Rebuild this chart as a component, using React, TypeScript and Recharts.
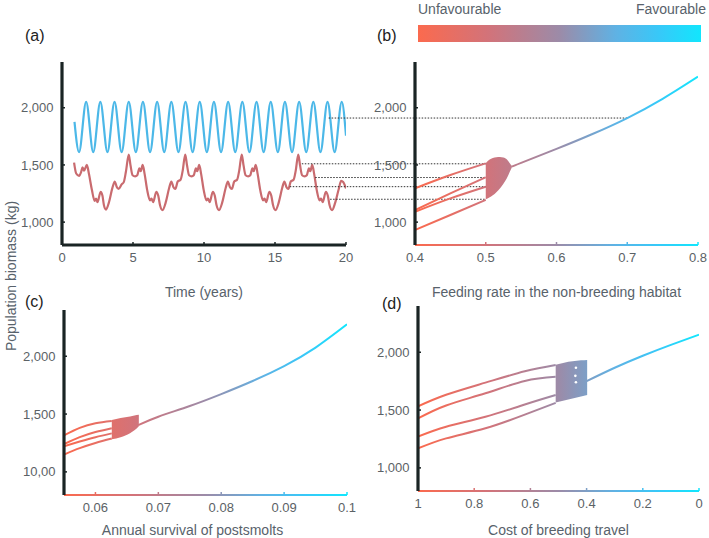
import React from "react";
import { ComposedChart, Line, Area, Scatter, XAxis, YAxis, ReferenceLine, Label } from "recharts";

// ---- data ----

// (a) population biomass over time, [years, kg]
const blueSeries = [
  [0.88, 1877], [1.2, 1612], [1.7, 2052], [2.2, 1612], [2.7, 2052], [3.2, 1612], [3.7, 2052],
  [4.2, 1612], [4.7, 2052], [5.2, 1612], [5.7, 2052], [6.2, 1612], [6.7, 2052], [7.2, 1612],
  [7.7, 2052], [8.2, 1612], [8.7, 2052], [9.2, 1612], [9.7, 2052], [10.2, 1612], [10.7, 2052],
  [11.2, 1612], [11.7, 2052], [12.2, 1612], [12.7, 2052], [13.2, 1612], [13.7, 2052], [14.2, 1612],
  [14.7, 2052], [15.2, 1612], [15.7, 2052], [16.2, 1612], [16.7, 2052], [17.2, 1612], [17.7, 2052],
  [18.2, 1612], [18.7, 2052], [19.2, 1612], [19.7, 2052], [20.0, 1755],
];

const redSeries = [
  [0.85, 1520], [1.0, 1425], [1.2, 1405], [1.35, 1440], [1.45, 1480], [1.55, 1450], [1.75, 1500],
  [1.9, 1420], [2.1, 1285], [2.3, 1185], [2.4, 1205], [2.5, 1175], [2.72, 1265], [2.85, 1230],
  [2.95, 1150], [3.1, 1110], [3.3, 1170], [3.55, 1300], [3.72, 1355], [3.85, 1310], [3.98, 1290],
  [4.2, 1330], [4.35, 1350], [4.5, 1440],
  [4.7, 1590], [4.82, 1500], [4.97, 1410], [5.15, 1400], [5.3, 1410], [5.45, 1470], [5.55, 1445],
  [5.68, 1500], [5.82, 1420], [6.0, 1280], [6.2, 1190], [6.3, 1205], [6.42, 1175], [6.64, 1265],
  [6.78, 1230], [6.9, 1150], [7.08, 1105], [7.3, 1170], [7.55, 1300], [7.7, 1355], [7.85, 1305],
  [7.98, 1290], [8.15, 1355], [8.35, 1370], [8.5, 1450],
  [8.68, 1590], [8.8, 1500], [8.95, 1410], [9.13, 1400], [9.28, 1410], [9.43, 1470], [9.53, 1445],
  [9.66, 1500], [9.8, 1420], [9.98, 1280], [10.18, 1190], [10.28, 1205], [10.4, 1175], [10.62, 1265],
  [10.76, 1230], [10.88, 1150], [11.06, 1105], [11.28, 1170], [11.53, 1300], [11.68, 1355], [11.83, 1305],
  [11.96, 1290], [12.13, 1355], [12.33, 1370], [12.48, 1450],
  [12.66, 1590], [12.78, 1500], [12.93, 1410], [13.11, 1400], [13.26, 1410], [13.41, 1470], [13.51, 1445],
  [13.64, 1500], [13.78, 1420], [13.96, 1280], [14.16, 1190], [14.26, 1205], [14.38, 1175], [14.6, 1265],
  [14.74, 1230], [14.86, 1150], [15.04, 1105], [15.26, 1170], [15.51, 1300], [15.66, 1355], [15.81, 1305],
  [15.94, 1290], [16.11, 1355], [16.31, 1370], [16.46, 1450],
  [16.64, 1590], [16.76, 1500], [16.91, 1410], [17.09, 1400], [17.24, 1410], [17.39, 1470], [17.49, 1445],
  [17.62, 1500], [17.76, 1420], [17.94, 1280], [18.14, 1190], [18.24, 1205], [18.36, 1175], [18.58, 1265],
  [18.72, 1230], [18.84, 1150], [19.02, 1105], [19.24, 1170], [19.49, 1290], [19.66, 1360], [19.8, 1350],
  [20.0, 1295],
];

const timeTicks = [0, 5, 10, 15, 20];
const biomassTicks = [1000, 1500, 2000];
const biomassLabels = ["1,000", "1,500", "2,000"];
const biomassLabelsC = ["10,00", "1,500", "2,000"];

// (b) feeding rate in the non-breeding habitat
const feedTicks = [0.4, 0.5, 0.6, 0.7, 0.8];
const feedBranches = [
  [[0.4, 1296], [0.45, 1412], [0.5, 1514]],
  [[0.4, 1106], [0.45, 1252], [0.5, 1392]],
  [[0.4, 1091], [0.45, 1208], [0.5, 1310]],
  [[0.4, 931], [0.45, 1062], [0.5, 1195]],
];
const feedBand = [
  [0.5, 1200, 1515], [0.505, 1215, 1545], [0.51, 1235, 1560], [0.515, 1262, 1568], [0.52, 1295, 1570],
  [0.525, 1335, 1565], [0.53, 1385, 1548], [0.534, 1440, 1515], [0.537, 1480, 1490],
];
const feedMain = [[0.537, 1485], [0.55, 1518], [0.6, 1640], [0.65, 1768], [0.7, 1910], [0.75, 2078], [0.8, 2272]];
// dotted guides linking (a) to (b): level, start and end on the feeding-rate scale
const guideLevels = [
  { y: 1910, from: 0.278, to: 0.7 },
  { y: 1510, from: 0.24, to: 0.5 },
  { y: 1390, from: 0.259, to: 0.5 },
  { y: 1310, from: 0.223, to: 0.5 },
  { y: 1200, from: 0.28, to: 0.5 },
];

// (c) annual survival of postsmolts
const survivalTicks = [0.06, 0.07, 0.08, 0.09, 0.1];
const survivalBranches = [
  [[0.055, 1315], [0.0575, 1380], [0.06, 1420], [0.0626, 1440]],
  [[0.055, 1240], [0.0575, 1300], [0.06, 1345], [0.0626, 1378]],
  [[0.055, 1222], [0.0575, 1262], [0.06, 1300], [0.0626, 1333]],
  [[0.055, 1150], [0.0575, 1205], [0.06, 1250], [0.0626, 1288]],
];
const survivalBand = [
  [0.0626, 1282, 1448], [0.064, 1300, 1465], [0.0655, 1335, 1480], [0.0662, 1360, 1488], [0.0669, 1395, 1493],
];
const survivalMain = [
  [0.0668, 1405], [0.07, 1477], [0.075, 1570], [0.08, 1673], [0.085, 1786], [0.09, 1915], [0.095, 2075], [0.1, 2276],
];

// (d) cost of breeding travel (axis runs 1 -> 0)
const costTicks = [0, 0.2, 0.4, 0.6, 0.8, 1];
const costBranches = [
  [[1, 1532], [0.9, 1632], [0.76, 1737], [0.62, 1835], [0.51, 1890]],
  [[1, 1428], [0.9, 1540], [0.76, 1645], [0.62, 1752], [0.51, 1788]],
  [[1, 1270], [0.9, 1355], [0.76, 1442], [0.62, 1548], [0.51, 1630]],
  [[1, 1168], [0.9, 1255], [0.76, 1342], [0.62, 1460], [0.51, 1562]],
];
const costBand = [
  [0.51, 1565, 1892], [0.48, 1582, 1910], [0.45, 1600, 1922], [0.42, 1618, 1930], [0.398, 1630, 1934],
];
const costMain = [[0.4, 1750], [0.3, 1866], [0.2, 1970], [0.1, 2064], [0, 2152]];
const costDots = [[0.438, 1866], [0.44, 1796], [0.438, 1741]];

// ---- styling ----
const FONT = '"Liberation Sans", Arial, Helvetica, sans-serif';
const INK = "#1a2424";
const TICK_TEXT = "#5b6266";
const TITLE_TEXT = "#58626b";
const STOPS: [number, string][] = [
  [0, "#fb6a4e"], [0.25, "#d2737a"], [0.5, "#9c8ba8"], [0.7, "#5fb2e4"], [0.85, "#38c8f8"], [1, "#12e6fd"],
];

const pts = (rows: number[][]) => rows.map(([x, v]) => ({ x, v }));
const band = (rows: number[][]) => rows.map(([x, lo, hi]) => ({ x, r: [lo, hi] }));

function gradient(id: string, x1: number, x2: number) {
  return (
    <defs key={"defs-" + id}>
      <linearGradient id={id} gradientUnits="userSpaceOnUse" x1={x1} y1={0} x2={x2} y2={0}>
        {STOPS.map(([o, c]) => (
          <stop key={o} offset={o} stopColor={c} />
        ))}
      </linearGradient>
    </defs>
  );
}

function yAxis(labels: string[]) {
  return (
    <YAxis
      key="y"
      type="number"
      domain={[800, 2400]}
      ticks={biomassTicks}
      width={50}
      allowDataOverflow
      tickFormatter={(v: number) => labels[biomassTicks.indexOf(v)]}
      axisLine={{ stroke: INK, strokeWidth: 3.2 }}
      tickLine={{ stroke: INK, strokeWidth: 1.5 }}
      tickSize={-3}
      tickMargin={11.5}
      tick={{ fill: TICK_TEXT, fontSize: 13, fontFamily: FONT }}
    />
  );
}

function xAxis(o: {
  domain: number[];
  ticks: number[];
  stroke: string;
  width: number;
  height: number;
  title: string;
  reversed?: boolean;
  dx?: number;
}) {
  return (
    <XAxis
      key="x"
      type="number"
      dataKey="x"
      domain={o.domain}
      ticks={o.ticks}
      reversed={o.reversed}
      interval={0}
      allowDataOverflow
      height={o.height}
      tickFormatter={(v: number) => String(v)}
      axisLine={{ stroke: o.stroke, strokeWidth: o.width }}
      tickLine={{ stroke: o.stroke, strokeWidth: 1.5 }}
      tickSize={-3}
      tickMargin={11}
      tick={{ fill: TICK_TEXT, fontSize: 13, fontFamily: FONT }}
    >
      <Label
        value={o.title}
        position="insideBottom"
        offset={3}
        dx={o.dx || 0}
        fill={TITLE_TEXT}
        fontSize={14}
        fontFamily={FONT}
      />
    </XAxis>
  );
}

function gradLines(rows: number[][][], id: string) {
  return rows.map((r, i) => (
    <Line
      key={id + "-l" + i}
      data={pts(r)}
      dataKey="v"
      type="natural"
      stroke={`url(#${id})`}
      strokeWidth={2}
      dot={false}
      activeDot={false}
      isAnimationActive={false}
    />
  ));
}

function bandArea(rows: number[][], id: string) {
  return (
    <Area
      key={id + "-band"}
      data={band(rows)}
      dataKey="r"
      type="monotone"
      stroke="none"
      fill={`url(#${id})`}
      fillOpacity={1}
      dot={false}
      activeDot={false}
      isAnimationActive={false}
    />
  );
}

const tag = (text: string, left: number, top: number) => (
  <div style={{ position: "absolute", left, top, fontSize: 16, color: "#222", fontFamily: FONT }}>{text}</div>
);

export default function App() {
  return (
    <div
      style={{
        position: "absolute",
        left: 0,
        top: 0,
        width: 709,
        height: 538,
        background: "#fff",
        fontFamily: FONT,
        overflow: "hidden",
      }}
    >
      {/* (a) */}
      <div style={{ position: "absolute", left: 0, top: 0 }}>
        <ComposedChart width={360} height={300} margin={{ top: 62, right: 14, bottom: 0, left: 12 }}>
          {xAxis({ domain: [0, 20], ticks: timeTicks, stroke: INK, width: 3, height: 55, title: "Time (years)" })}
          {yAxis(biomassLabels)}
          <Line
            data={pts(blueSeries)}
            dataKey="v"
            type="monotone"
            stroke="#4cb8e8"
            strokeWidth={2.2}
            dot={false}
            activeDot={false}
            isAnimationActive={false}
          />
          <Line
            data={pts(redSeries)}
            dataKey="v"
            type="monotone"
            stroke="#c96b6f"
            strokeWidth={2.2}
            dot={false}
            activeDot={false}
            isAnimationActive={false}
          />
        </ComposedChart>
      </div>

      {/* (b) */}
      <div style={{ position: "absolute", left: 280, top: 0 }}>
        <ComposedChart width={429} height={300} margin={{ top: 62, right: 11, bottom: 0, left: 85 }}>
          {gradient("gb", 135, 418)}
          {xAxis({
            domain: [0.4, 0.8],
            ticks: feedTicks,
            stroke: "url(#gb)",
            width: 2,
            height: 55,
            title: "Feeding rate in the non-breeding habitat",
          })}
          {yAxis(biomassLabels)}
          {guideLevels.map((g) => (
            <ReferenceLine
              key={"g" + g.y}
              segment={[{ x: g.from, y: g.y }, { x: g.to, y: g.y }]}
              ifOverflow="visible"
              stroke="#333"
              strokeWidth={1}
              strokeDasharray="1.5 1.5"
            />
          ))}
          {gradLines(feedBranches, "gb")}
          {bandArea(feedBand, "gb")}
          {gradLines([feedMain], "gb")}
        </ComposedChart>
      </div>

      {/* (c) */}
      <div style={{ position: "absolute", left: 0, top: 260 }}>
        <ComposedChart width={360} height={278} margin={{ top: 50, right: 13, bottom: 0, left: 14 }}>
          {gradient("gc", 64, 347)}
          {xAxis({
            domain: [0.055, 0.1],
            ticks: survivalTicks,
            stroke: "url(#gc)",
            width: 2,
            height: 43,
            title: "Annual survival of postsmolts",
            dx: -13,
          })}
          {yAxis(biomassLabelsC)}
          {gradLines(survivalBranches, "gc")}
          {bandArea(survivalBand, "gc")}
          {gradLines([survivalMain], "gc")}
        </ComposedChart>
      </div>

      {/* (d) */}
      <div style={{ position: "absolute", left: 360, top: 260 }}>
        <ComposedChart width={349} height={278} margin={{ top: 46, right: 10, bottom: 0, left: 8 }}>
          {gradient("gd", 58, 339)}
          {xAxis({
            domain: [0, 1],
            ticks: costTicks,
            stroke: "url(#gd)",
            width: 2,
            height: 47,
            title: "Cost of breeding travel",
            reversed: true,
          })}
          {yAxis(biomassLabels)}
          {gradLines(costBranches, "gd")}
          {bandArea(costBand, "gd")}
          {gradLines([costMain], "gd")}
          <Scatter
            data={pts(costDots)}
            dataKey="v"
            isAnimationActive={false}
            shape={(p: any) => <circle cx={p.cx} cy={p.cy} r={1.3} fill="#ffffff" />}
          />
        </ComposedChart>
      </div>

      {/* colour bar */}
      <div
        style={{
          position: "absolute",
          left: 418,
          top: 25,
          width: 283,
          height: 17,
          background: `linear-gradient(to right, ${STOPS.map(([o, c]) => `${c} ${o * 100}%`).join(", ")})`,
        }}
      />
      <div style={{ position: "absolute", left: 418, top: 1, fontSize: 14, color: TITLE_TEXT }}>Unfavourable</div>
      <div style={{ position: "absolute", right: 3, top: 1, fontSize: 14, color: TITLE_TEXT }}>Favourable</div>

      {/* shared y title */}
      <div
        style={{
          position: "absolute",
          left: 11,
          top: 276,
          transform: "translate(-50%, -50%) rotate(-90deg)",
          whiteSpace: "nowrap",
          fontSize: 14,
          color: TITLE_TEXT,
        }}
      >
        Population biomass (kg)
      </div>

      {tag("(a)", 25, 27)}
      {tag("(b)", 377, 27)}
      {tag("(c)", 25, 293)}
      {tag("(d)", 382, 295)}
    </div>
  );
}
